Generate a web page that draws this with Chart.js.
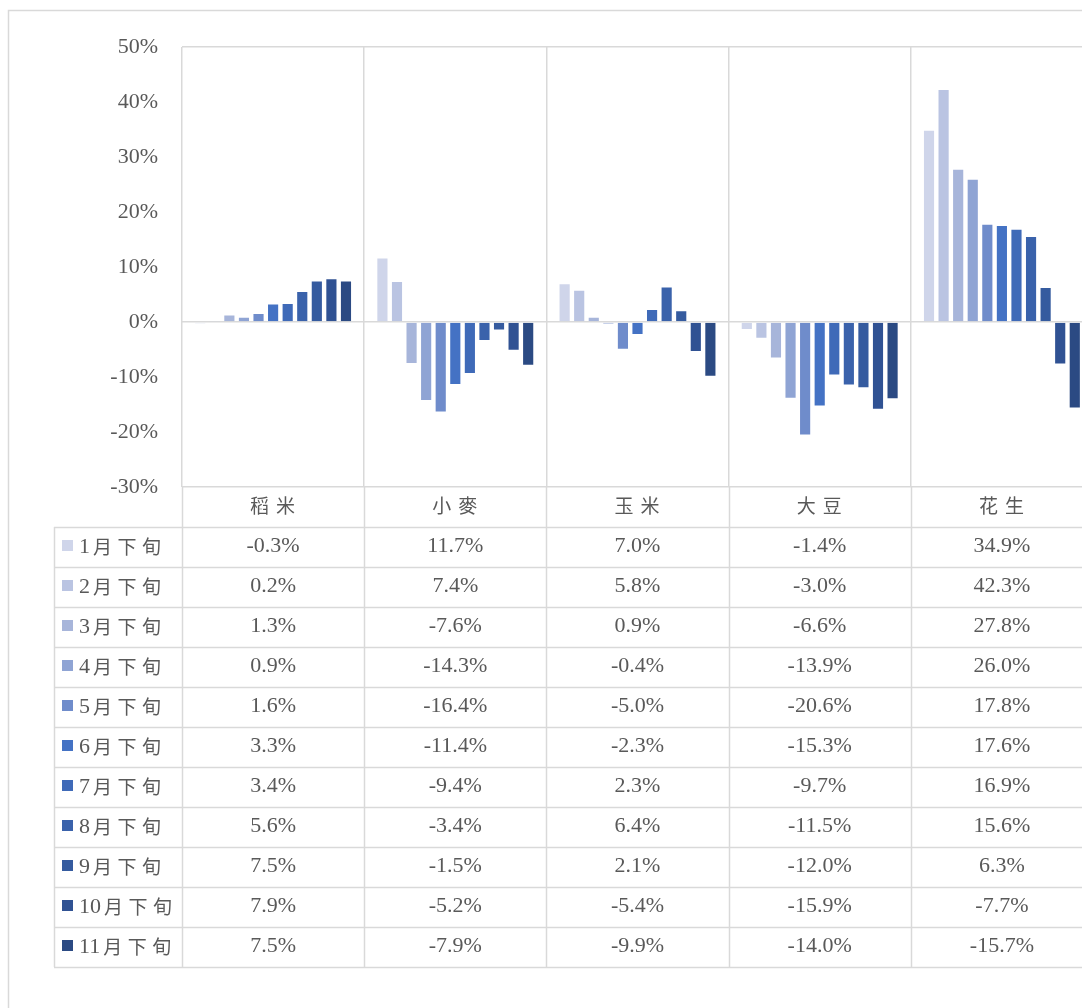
<!DOCTYPE html>
<html>
<head>
<meta charset="utf-8">
<script src="https://cdn.jsdelivr.net/npm/chart.js@4/dist/chart.umd.min.js"></script>
<style>
  html, body { margin: 0; padding: 0; background: #fff; overflow: hidden; }
  #wrap { width: 1082px; height: 1008px; overflow: hidden; position: relative; }
  canvas { display: block; }
</style>
</head>
<body>
<div id="wrap"><canvas id="chart" width="1100" height="1008"></canvas></div>
<script>
// categories and series
const categories = ['稻米', '小麥', '玉米', '大豆', '花生'];
const seriesNames = ['1月下旬', '2月下旬', '3月下旬', '4月下旬', '5月下旬', '6月下旬',
                     '7月下旬', '8月下旬', '9月下旬', '10月下旬', '11月下旬'];
const jan = [-0.3, 11.7, 7.0, -1.4, 34.9];
const feb = [0.2, 7.4, 5.8, -3.0, 42.3];
const mar = [1.3, -7.6, 0.9, -6.6, 27.8];
const apr = [0.9, -14.3, -0.4, -13.9, 26.0];
const may = [1.6, -16.4, -5.0, -20.6, 17.8];
const jun = [3.3, -11.4, -2.3, -15.3, 17.6];
const jul = [3.4, -9.4, 2.3, -9.7, 16.9];
const aug = [5.6, -3.4, 6.4, -11.5, 15.6];
const sep = [7.5, -1.5, 2.1, -12.0, 6.3];
const oct = [7.9, -5.2, -5.4, -15.9, -7.7];
const nov = [7.5, -7.9, -9.9, -14.0, -15.7];
const seriesValues = [jan, feb, mar, apr, may, jun, jul, aug, sep, oct, nov];
const yTicks = [50, 40, 30, 20, 10, 0, -10, -20, -30];

const colors = ['#CFD5EA', '#BAC4E2', '#A7B5DA', '#8FA4D4', '#6F8CCB', '#4472C4',
                '#3F6AB8', '#3A62AB', '#355B9F', '#305293', '#2B4A83'];

const TEXT = '#595959';
const LINE = '#d9d9d9';
const NUM_FONT = '22px "Liberation Serif", serif';
const CJK_FONT = '19px "Noto Sans CJK SC", sans-serif';
const ROW_H = 40;

const tablePlugin = {
  id: 'dataTable',
  beforeDraw(chart) {
    const ctx = chart.ctx;
    ctx.save();
    ctx.strokeStyle = LINE;
    ctx.lineWidth = 1.5;
    ctx.strokeRect(8.5, 10.5, chart.width + 20, chart.height + 20);
    ctx.restore();
  },
  afterDraw(chart) {
    const { ctx, chartArea } = chart;
    const xs = chart.scales.x;
    const n = categories.length;
    const colW = (chartArea.right - chartArea.left) / n;
    const labelTop = chartArea.bottom;
    const tableTop = labelTop + 40;
    const tableLeft = 54;
    const tableBottom = tableTop + ROW_H * seriesNames.length;

    ctx.save();
    ctx.strokeStyle = LINE;
    ctx.lineWidth = 1.5;
    // vertical lines below the plot
    for (let k = 0; k <= n; k++) {
      const x = Math.round(chartArea.left + k * colW) + 0.5;
      ctx.beginPath();
      ctx.moveTo(x, labelTop);
      ctx.lineTo(x, tableBottom);
      ctx.stroke();
    }
    ctx.beginPath();
    ctx.moveTo(tableLeft + 0.5, tableTop);
    ctx.lineTo(tableLeft + 0.5, tableBottom);
    ctx.stroke();
    // horizontal lines
    for (let r = 0; r <= seriesNames.length; r++) {
      const y = Math.round(tableTop + r * ROW_H) + 0.5;
      ctx.beginPath();
      ctx.moveTo(tableLeft, y);
      ctx.lineTo(chart.width, y);
      ctx.stroke();
    }

    // category labels
    ctx.fillStyle = TEXT;
    ctx.textBaseline = 'middle';
    ctx.textAlign = 'center';
    ctx.font = CJK_FONT;
    ctx.letterSpacing = '7px';
    categories.forEach((c, i) => {
      ctx.fillText(c, xs.getPixelForValue(i) + 3, labelTop + 19);
    });

    // rows: legend key + values
    seriesNames.forEach((name, r) => {
      const cy = tableTop + r * ROW_H + ROW_H / 2;
      ctx.fillStyle = colors[r];
      ctx.fillRect(62, Math.round(cy - 7), 11, 11);
      ctx.fillStyle = TEXT;
      ctx.textAlign = 'left';
      const num = name.match(/^\d+/)[0];
      const rest = name.slice(num.length);
      ctx.letterSpacing = '0px';
      ctx.font = NUM_FONT;
      ctx.fillText(num, 79, cy);
      const w = ctx.measureText(num).width;
      ctx.font = CJK_FONT;
      ctx.letterSpacing = '5.5px';
      ctx.fillText(rest, 79 + w + 3, cy);
      ctx.letterSpacing = '0px';
      ctx.font = NUM_FONT;
      ctx.textAlign = 'center';
      seriesValues[r].forEach((v, i) => {
        ctx.fillText(v.toFixed(1) + '%', xs.getPixelForValue(i), cy - 1);
      });
    });
    ctx.restore();
  }
};

new Chart(document.getElementById('chart'), {
  type: 'bar',
  data: {
    labels: categories,
    datasets: seriesNames.map((name, i) => ({
      label: name,
      data: seriesValues[i],
      backgroundColor: colors[i],
      borderColor: 'rgba(255,255,255,0.35)',
      borderWidth: 0.75,
      categoryPercentage: 0.88,
      barPercentage: 0.8
    }))
  },
  options: {
    responsive: false,
    animation: false,
    devicePixelRatio: 1,
    layout: { padding: { top: 47, left: 8, right: 7, bottom: 481 } },
    plugins: { legend: { display: false }, tooltip: { enabled: false } },
    scales: {
      x: {
        border: { display: false },
        grid: { color: LINE, lineWidth: 1.5, drawTicks: false, offset: true },
        ticks: { display: false },
        afterFit(scale) { scale.height = 40; }
      },
      y: {
        min: -30,
        max: 50,
        afterBuildTicks(scale) { scale.ticks = yTicks.map(v => ({ value: v })); },
        border: { display: false },
        grid: {
          drawTicks: false,
          lineWidth: 1.5,
          color: c => (c.tick && [50, 0, -30].includes(c.tick.value)) ? LINE : 'rgba(0,0,0,0)'
        },
        ticks: {
          padding: 24,
          color: TEXT,
          font: { family: '"Liberation Serif", serif', size: 22 },
          callback: v => v + '%'
        },
        afterFit(scale) { scale.width = 174; }
      }
    }
  },
  plugins: [tablePlugin]
});
</script>
</body>
</html>
